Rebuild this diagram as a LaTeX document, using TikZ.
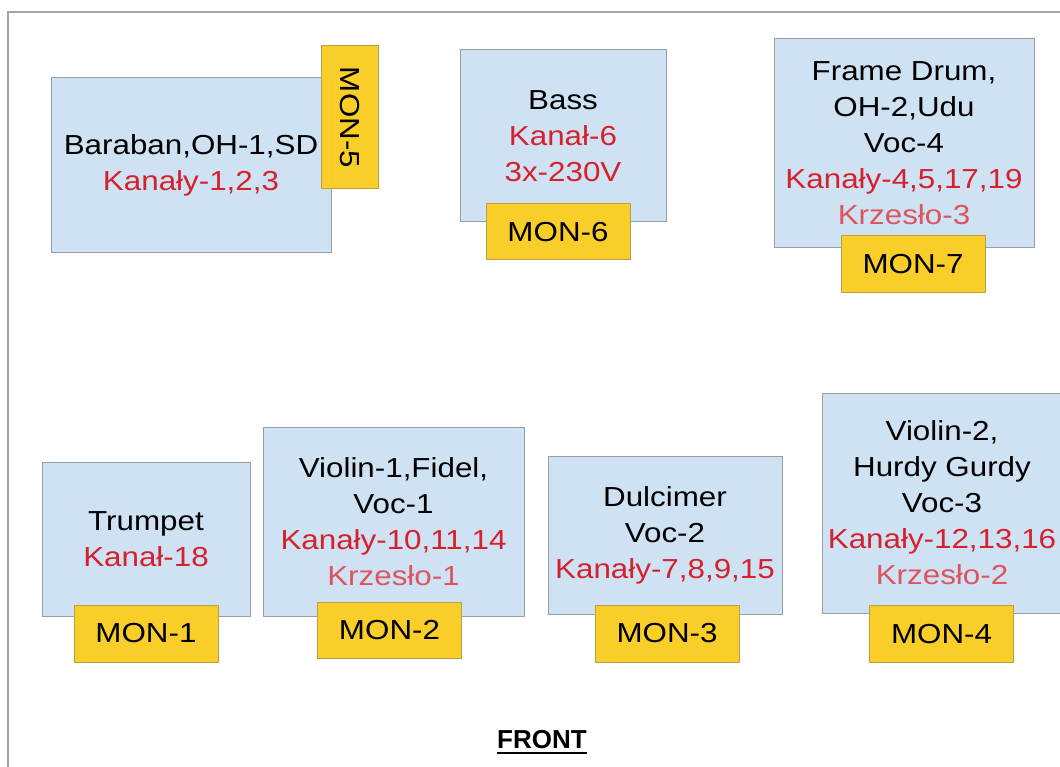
\documentclass[tikz,border=0pt]{standalone}
\usepackage{fontspec}
\setmainfont{Liberation Sans}[FakeStretch=1.14]
\newfontfamily\frontfont{Liberation Sans}
\usetikzlibrary{calc}
\definecolor{boxfill}{RGB}{207,226,243}
\definecolor{boxline}{RGB}{150,158,166}
\definecolor{monfill}{RGB}{250,206,40}
\definecolor{monline}{RGB}{185,160,70}
\definecolor{chred}{RGB}{214,32,44}
\definecolor{chairred}{RGB}{222,84,94}
\definecolor{frameline}{RGB}{165,165,165}
\tikzset{
  stagebox/.style={draw=boxline, fill=boxfill, line width=1pt, inner sep=0pt,
    align=center, font=\fontsize{27.5}{36}\selectfont, text=black},
  monbox/.style={draw=monline, fill=monfill, line width=1pt, inner sep=0pt,
    align=center, minimum width=144, minimum height=57,
    font=\fontsize{27.5}{36}\selectfont, text=black},
}
\newcommand{\ch}[1]{\textcolor{chred}{#1}}
\newcommand{\chair}[1]{\textcolor{chairred}{#1}}
\begin{document}
\begin{tikzpicture}[x=1pt,y=-1pt]
\useasboundingbox (0,0) rectangle (1060,767);
\clip (0,0) rectangle (1060,767);
\fill[white] (0,0) rectangle (1060,767);
\draw[frameline, line width=1.5pt] (8,770) -- (8,12) -- (1065,12);

% top row
\node[stagebox, minimum width=280, minimum height=175] (baraban) at (191,165.5)
  {Baraban,OH-1,SD\\ \ch{Kanały-1,2,3}};
\node[monbox, minimum width=143, minimum height=57, rotate=-90] (mon5) at (349.5,117.5) {MON-5};

\node[stagebox, minimum width=206, minimum height=172] (bass) at (563,136)
  {Bass\\ \ch{Kanał-6}\\ \ch{3x-230V}};
\node[monbox, minimum height=56] (mon6) at (558,232) {MON-6};

\node[stagebox, minimum width=260, minimum height=209] (frame) at (904,143.5)
  {Frame Drum,\\ OH-2,Udu\\ Voc-4\\ \ch{Kanały-4,5,17,19}\\ \chair{Krzesło-3}};
\node[monbox] (mon7) at (913,264.5) {MON-7};

% bottom row
\node[stagebox, minimum width=208, minimum height=154] (trumpet) at (146,539)
  {Trumpet\\ \ch{Kanał-18}};
\node[monbox] (mon1) at (146,633.5) {MON-1};

\node[stagebox, minimum width=261, minimum height=189] (violin1) at (393.5,521.5)
  {Violin-1,Fidel,\\ Voc-1\\ \ch{Kanały-10,11,14}\\ \chair{Krzesło-1}};
\node[monbox, minimum height=56] (mon2) at (389.5,630) {MON-2};

\node[stagebox, minimum width=234, minimum height=158] (dulcimer) at (665,535)
  {Dulcimer\\ Voc-2\\ \ch{Kanały-7,8,9,15}};
\node[monbox] (mon3) at (667,633.5) {MON-3};

\node[stagebox, minimum width=240, minimum height=220] (violin2) at (942,503)
  {Violin-2,\\ Hurdy Gurdy\\ Voc-3\\ \ch{Kanały-12,13,16}\\ \chair{Krzesło-2}};
\node[monbox] (mon4) at (941.5,634) {MON-4};

% front label
\node[inner sep=0pt, font=\frontfont\bfseries\fontsize{26}{30}\selectfont] (front) at (542,740) {FRONT};
\draw[line width=2pt] ($(front.base west)+(0,4)$) -- ($(front.base east)+(0,4)$);
\end{tikzpicture}
\end{document}
